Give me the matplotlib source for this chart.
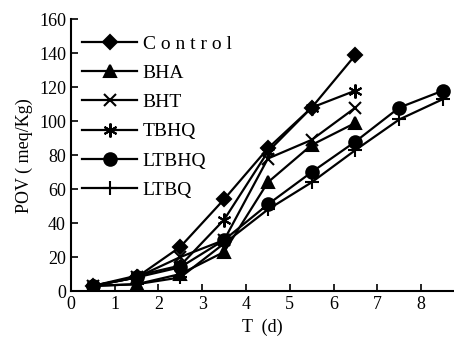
import matplotlib
matplotlib.use('Agg')
import matplotlib.pyplot as plt

plt.rcParams['font.family'] = ['Liberation Serif', 'DejaVu Serif']

days = [0.5, 1.5, 2.5, 3.5, 4.5, 5.5, 6.5, 7.5, 8.5]
control = [3, 8, 26, 54, 84, 108, 139]
bha = [3, 4, 10, 23, 64, 86, 99]
bht = [3, 8, 20, 30, 78, 89, 108]
tbhq = [3, 9, 15, 42, 82, 108, 118]
ltbhq = [3, 8, 14, 30, 51, 70, 88, 108, 118]
ltbq = [3, 4, 8, 28, 48, 64, 83, 101, 113]

series = [
    ('C o n t r o l', control, 'D', 7),
    ('BHA', bha, '^', 8),
    ('BHT', bht, 'x', 9),
    ('TBHQ', tbhq, (6, 2, 0), 10),
    ('LTBHQ', ltbhq, 'o', 9),
    ('LTBQ', ltbq, '+', 10),
]

fig = plt.figure(figsize=(4.54, 3.44), dpi=100)
ax = fig.add_axes([0.156, 0.154, 0.844, 0.79])

for name, vals, mk, ms in series:
    ax.plot(days[:len(vals)], vals, color='black', lw=1.6, marker=mk,
            markersize=ms, markeredgewidth=1.5, markerfacecolor='black',
            markeredgecolor='black', label=name)

ax.set_xlim(0, 8.75)
ax.set_ylim(0, 160)
ax.set_xticks(range(0, 9))
ax.set_yticks(range(0, 161, 20))
ax.tick_params(direction='in', length=5, width=1.2, labelsize=13)
for s in ['top', 'right']:
    ax.spines[s].set_visible(False)
for s in ['left', 'bottom']:
    ax.spines[s].set_linewidth(1.5)

ax.set_xlabel('T  (d)', fontsize=13, labelpad=4)
ax.set_ylabel('POV ( meq/Kg)', fontsize=13, labelpad=4)

ax.legend(loc='upper left', bbox_to_anchor=(0.0, 0.985), frameon=False,
          borderaxespad=0.2, handlelength=2.8, fontsize=14,
          labelspacing=0.6, handletextpad=0.3)

fig.savefig('out.png', dpi=100)
